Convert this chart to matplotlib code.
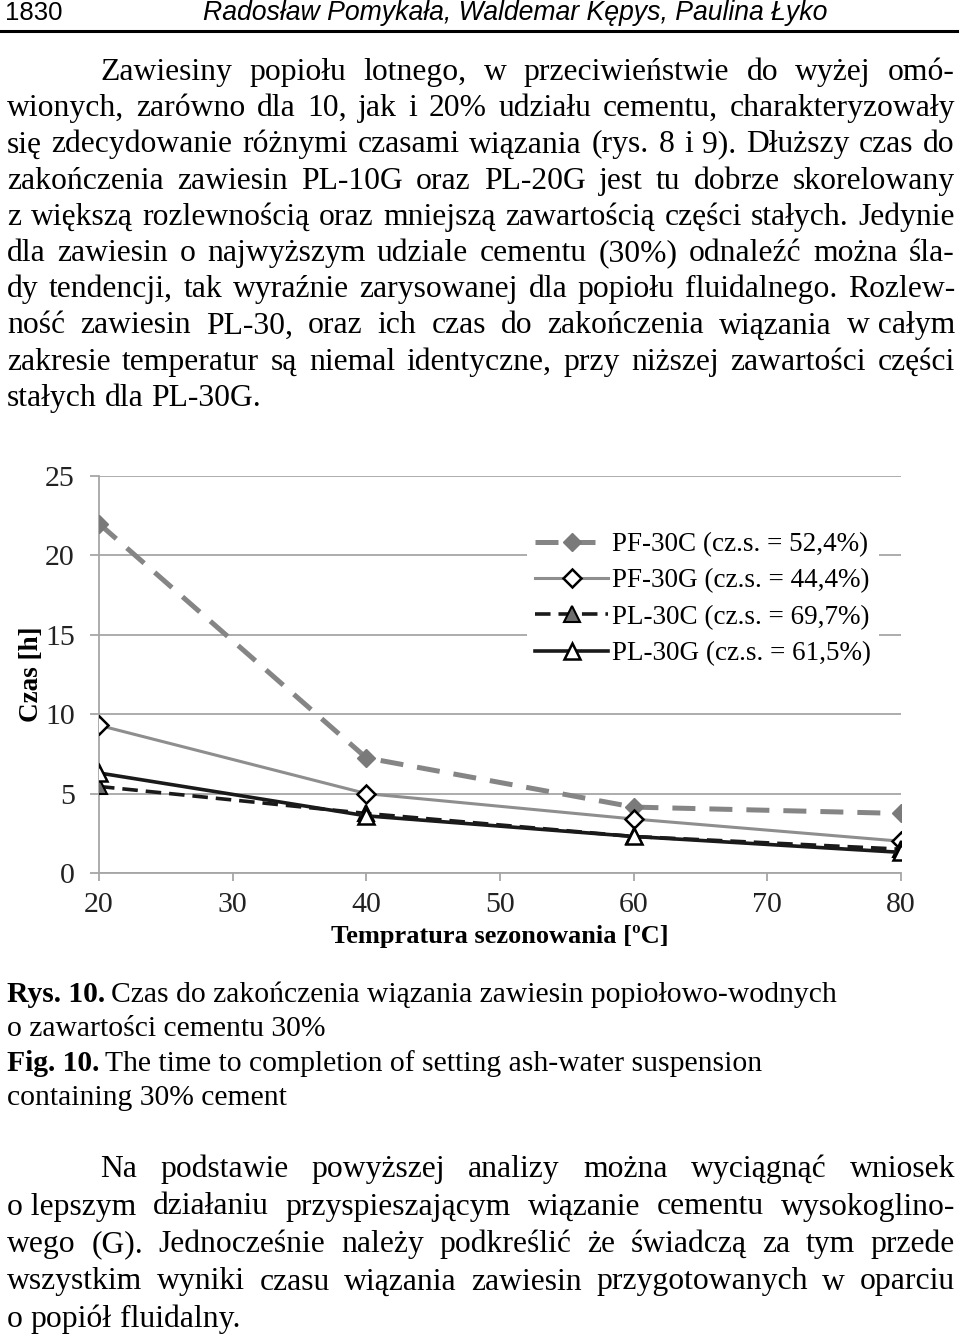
import matplotlib
matplotlib.use("Agg")
import matplotlib.pyplot as plt
from matplotlib.lines import Line2D

# ---------------- data ----------------
temps = [20, 40, 60, 80]
pf30c = [22.0, 7.25, 4.15, 3.75]
pf30g = [9.3, 5.0, 3.4, 2.0]
pl30c = [5.45, 3.75, 2.3, 1.5]
pl30g = [6.3, 3.6, 2.3, 1.3]
series_labels = ["PF-30C (cz.s. = 52,4%)", "PF-30G (cz.s. = 44,4%)",
                 "PL-30C (cz.s. = 69,7%)", "PL-30G (cz.s. = 61,5%)"]
xticks = [20, 30, 40, 50, 60, 70, 80]
yticks = [0, 5, 10, 15, 20, 25]
xlabel = "Tempratura sezonowania [ºC]"
ylabel = "Czas [h]"

header_num = "1830"
header_authors = "Radosław Pomykała, Waldemar Kępys, Paulina Łyko"

NB = "\u00a0"
para1 = [
    "Zawiesiny popiołu lotnego, w przeciwieństwie do wyżej omó-",
    "wionych, zarówno dla 10, jak i 20% udziału cementu, charakteryzowały",
    "się zdecydowanie różnymi czasami wiązania (rys. 8 i 9). Dłuższy czas do",
    "zakończenia zawiesin PL-10G oraz PL-20G jest tu dobrze skorelowany",
    "z większą rozlewnością oraz mniejszą zawartością części stałych. Jedynie",
    "dla zawiesin o najwyższym udziale cementu (30%) odnaleźć można śla-",
    "dy tendencji, tak wyraźnie zarysowanej dla popiołu fluidalnego. Rozlew-",
    "ność zawiesin PL-30, oraz ich czas do zakończenia wiązania w" + NB + "całym",
    "zakresie temperatur są niemal identyczne, przy niższej zawartości części",
    "stałych dla PL-30G.",
]
caption = [
    ("Rys. 10.", "Czas do zakończenia wiązania zawiesin popiołowo-wodnych"),
    ("", "o zawartości cementu 30%"),
    ("Fig. 10.", "The time to completion of setting ash-water suspension"),
    ("", "containing 30% cement"),
]
para2 = [
    "Na podstawie powyższej analizy można wyciągnąć wniosek",
    "o" + NB + "lepszym działaniu przyspieszającym wiązanie cementu wysokoglino-",
    "wego (G). Jednocześnie należy podkreślić że świadczą za tym przede",
    "wszystkim wyniki czasu wiązania zawiesin przygotowanych w oparciu",
    "o popiół fluidalny.",
]

# ---------------- figure ----------------
W, H = 960, 1337
fig = plt.figure(figsize=(W / 100, H / 100), dpi=100)
fig.patch.set_facecolor("white")
renderer = fig.canvas.get_renderer()

SERIF = ["Liberation Serif", "DejaVu Serif"]
SANS = ["Liberation Sans", "DejaVu Sans"]


def fx(x):
    return x / W


def fy(y):
    return 1 - y / H


def put(x, y, s, **kw):
    kw.setdefault("va", "baseline")
    kw.setdefault("ha", "left")
    return fig.text(fx(x), fy(y), s, **kw)


def width_of(t):
    return t.get_window_extent(renderer).width


def measure(s, **kw):
    t = put(100, 600, s, **kw)
    w = width_of(t)
    t.remove()
    return w


def justify(line, x0, x1, yb, size, last=False, family=SERIF):
    words = line.split(" ")
    arts = [put(x0, yb, w, fontsize=size, family=family) for w in words]
    widths = [width_of(a) for a in arts]
    if last or len(words) == 1:
        sp = measure("a a", fontsize=size, family=family) - \
            measure("aa", fontsize=size, family=family)
    else:
        sp = (x1 - x0 - sum(widths)) / (len(words) - 1)
    x = x0
    for a, w in zip(arts, widths):
        a.set_x(fx(x))
        x += w + sp


# header
put(5, 20, header_num, fontsize=18.5, family=SANS)
put(203, 20, header_authors, fontsize=19.2, family=SANS, style="italic")
fig.add_artist(Line2D([0, fx(957)], [fy(31), fy(31)], color="black", lw=2.2))

# paragraph 1
BODY = 22.8
for i, line in enumerate(para1):
    x0 = 100 if i == 0 else 7
    justify(line, x0, 955, 80 + 36.2 * i, BODY, last=(i == len(para1) - 1))

# caption
CAP = 21.3
for i, (bold, rest) in enumerate(caption):
    yb = 1002 + 34.3 * i
    x = 7
    if bold:
        tb = put(x, yb, bold, fontsize=CAP, family=SERIF, weight="bold")
        x += width_of(tb) + 6
    put(x, yb, rest, fontsize=CAP, family=SERIF)

# paragraph 2
for i, line in enumerate(para2):
    x0 = 100 if i == 0 else 7
    justify(line, x0, 955, 1177 + 37.5 * i, BODY, last=(i == len(para2) - 1))

# ---------------- chart ----------------
ax = fig.add_axes([fx(99), fy(873), (901 - 99) / W, (873 - 476) / H])
ax.set_xlim(20, 80)
ax.set_ylim(0, 25)
grid_c = "#a6a6a6"
ax.set_yticks(yticks)
ax.set_xticks(xticks)
ax.yaxis.grid(True, color=grid_c, lw=1.3)
ax.set_axisbelow(True)
for s in ["top", "right"]:
    ax.spines[s].set_visible(False)
for s in ["left", "bottom"]:
    ax.spines[s].set_color(grid_c)
    ax.spines[s].set_linewidth(1.3)
ax.tick_params(axis="y", direction="out", length=6.5, width=1.3, color=grid_c,
               pad=11, labelsize=21.5)
ax.tick_params(axis="x", direction="out", length=6, width=1.3, color=grid_c,
               pad=8, labelsize=21.5)
for lab in ax.get_xticklabels() + ax.get_yticklabels():
    lab.set_family(SERIF)
    lab.set_color("#222222")

ax.plot(temps, pf30c, color="#858585", lw=3.6, dashes=(4.6, 2.8),
        marker="D", ms=9, mfc="#7a7a7a", mec="#7a7a7a", label=series_labels[0],
        zorder=3)
ax.plot(temps, pf30g, color="#8e8e8e", lw=2.2, marker="D", ms=9,
        mfc="white", mec="black", mew=1.8, label=series_labels[1], zorder=4)
ax.plot(temps, pl30c, color="#1a1a1a", lw=2.6, dashes=(4.3, 2.2),
        marker="^", ms=11, mfc="#6e6e6e", mec="black", mew=1.5,
        label=series_labels[2], zorder=5)
ax.plot(temps, pl30g, color="#1a1a1a", lw=2.6, marker="^", ms=11,
        mfc="white", mec="black", mew=1.8, label=series_labels[3], zorder=6)

leg = ax.legend(loc="upper left", bbox_to_anchor=(fx(527), fy(524)),
                bbox_transform=fig.transFigure, frameon=True, fancybox=False,
                edgecolor="none", facecolor="white", framealpha=1,
                prop={"family": SERIF, "size": 19.5}, borderpad=0.3,
                handlelength=2.7, handletextpad=0.15, labelspacing=0.42,
                borderaxespad=0)
leg.set_zorder(10)

fig.text(fx(500), fy(937), xlabel, ha="center", va="center", fontsize=19,
         weight="bold", family=SERIF)
fig.text(fx(32), fy(674), ylabel, ha="center", va="center", fontsize=19.5,
         weight="bold", family=SERIF, rotation=90)

fig.savefig("out.png", dpi=100, facecolor="white")
